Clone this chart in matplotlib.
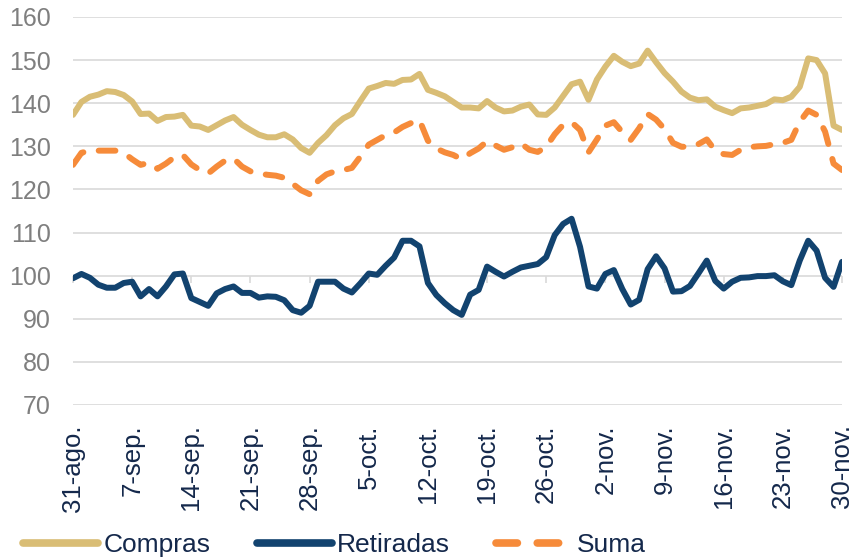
import matplotlib
matplotlib.use("Agg")
import matplotlib.pyplot as plt
import numpy as np

# daily series, 31-ago .. 30-nov
compras = [137.3, 140.3, 141.5, 142.0, 142.8, 142.6, 141.9, 140.4, 137.5, 137.6,
           135.9, 136.8, 136.9, 137.3, 134.8, 134.6, 133.8, 134.9, 136.0, 136.8,
           135.0, 133.8, 132.7, 132.1, 132.1, 132.8, 131.6, 129.6, 128.5, 130.8,
           132.6, 134.9, 136.5, 137.5, 140.5, 143.4, 144.0, 144.7, 144.5, 145.4,
           145.5, 146.8, 143.1, 142.4, 141.6, 140.3, 139.0, 139.0, 138.8, 140.5,
           139.0, 138.1, 138.3, 139.2, 139.7, 137.4, 137.3, 139.0, 141.7, 144.4,
           145.0, 140.8, 145.5, 148.5, 151.0, 149.6, 148.6, 149.2, 152.2, 149.5,
           147.0, 145.0, 142.7, 141.3, 140.7, 140.9, 139.2, 138.4, 137.7, 138.8,
           139.0, 139.4, 139.8, 140.9, 140.7, 141.5, 143.8, 150.4, 150.0, 146.9,
           134.8, 133.8]

retiradas = [99.4, 100.4, 99.5, 97.9, 97.2, 97.2, 98.3, 98.6, 95.2, 96.9,
             95.2, 97.5, 100.3, 100.5, 94.8, 93.9, 93.0, 95.9, 96.9, 97.5,
             96.0, 96.0, 94.9, 95.2, 95.1, 94.3, 92.0, 91.4, 93.0, 98.6,
             98.6, 98.6, 97.0, 96.1, 98.2, 100.5, 100.2, 102.3, 104.2, 108.1,
             108.1, 106.8, 98.3, 95.5, 93.6, 92.0, 90.9, 95.6, 96.7, 102.1,
             100.9, 99.8, 100.9, 101.9, 102.3, 102.7, 104.3, 109.4, 112.0, 113.2,
             106.7, 97.5, 97.0, 100.4, 101.3, 96.9, 93.3, 94.4, 101.5, 104.5,
             101.7, 96.3, 96.4, 97.6, 100.5, 103.5, 98.8, 97.0, 98.6, 99.5,
             99.6, 99.9, 99.9, 100.1, 98.7, 97.8, 103.5, 108.1, 105.8, 99.5,
             97.4, 103.2]

suma = [125.7, 128.5, 129.0, 129.0, 129.0, 129.0, 128.5, 127.0, 125.7, 126.2,
        124.8, 126.0, 127.5, 128.0, 125.8, 124.5, 123.7, 125.3, 126.7, 127.2,
        125.3, 124.2, 123.7, 123.4, 123.2, 122.7, 121.3, 119.8, 118.9, 122.0,
        123.5, 124.2, 124.5, 125.0, 127.6, 130.4, 131.5, 132.6, 133.2, 134.5,
        135.4, 136.1, 131.3, 129.5, 128.6, 128.0, 127.0, 128.4, 129.5, 131.2,
        130.2, 129.2, 129.8, 130.7, 129.2, 128.7, 129.9, 132.8, 135.0, 135.6,
        133.8, 128.6, 131.6, 134.8, 135.6, 133.3, 131.5, 134.2, 137.5, 136.2,
        134.0, 130.8, 129.9, 129.9, 130.5, 131.6, 129.0, 128.2, 128.0, 129.2,
        129.8, 130.0, 130.1, 130.5, 130.8, 131.5, 135.7, 138.3, 137.3, 133.4,
        126.0, 124.5]

tick_pos = [0, 7, 14, 21, 28, 35, 42, 49, 56, 63, 70, 77, 84, 91]
tick_labels = ["31-ago.", "7-sep.", "14-sep.", "21-sep.", "28-sep.", "5-oct.",
               "12-oct.", "19-oct.", "26-oct.", "2-nov.", "9-nov.", "16-nov.",
               "23-nov.", "30-nov."]

plt.rcParams["font.family"] = ["Liberation Sans", "DejaVu Sans"]
navy = "#14284B"
grey = "#D9D9D9"

x = np.arange(len(compras))

fig = plt.figure(figsize=(8.54, 5.6), dpi=100)
ax = fig.add_axes([73 / 854, 1 - 405 / 560, (842 - 73) / 854, (405 - 17) / 560])

ax.plot(x, compras, color="#D9BD75", lw=4.3, solid_joinstyle="round",
        solid_capstyle="round", label="Compras", zorder=3)
ax.plot(x, retiradas, color="#12436F", lw=4.3, solid_joinstyle="round",
        solid_capstyle="round", label="Retiradas", zorder=3)
ax.plot(x, suma, color="#F68B3A", lw=4.3, dashes=(2.8, 2.6), dash_capstyle="round",
        label="Suma", zorder=3)

ax.set_xlim(0, 91)
ax.set_ylim(70, 160)
ax.set_yticks(np.arange(70, 161, 10))
ax.yaxis.grid(True, color=grey, lw=1.2)
ax.set_axisbelow(True)
for s in ax.spines.values():
    s.set_visible(False)

ax.tick_params(axis="y", length=0, pad=16, labelsize=18, labelcolor="#7F7F7F")
ax.set_xticks(tick_pos)
ax.set_xticklabels(tick_labels, rotation=90, fontsize=18.5, color=navy)
ax.tick_params(axis="x", length=0, pad=14)

# category axis crossing at 100, only its tick marks show
sec = ax.secondary_xaxis((100 - 70) / 90)
sec.set_xticks(tick_pos)
sec.set_xticklabels([""] * len(tick_pos))
sec.tick_params(length=5, width=1.2, color=grey, direction="out")
sec.spines["bottom"].set_visible(False)
sec.spines["top"].set_visible(False)

leg = fig.legend(loc="center left", bbox_to_anchor=(0.027, 0.027), ncol=3,
                 frameon=False, fontsize=19, handlelength=2.85, handletextpad=0.2,
                 columnspacing=1.75, borderaxespad=0, borderpad=0)
for t in leg.get_texts():
    t.set_color(navy)
for ln in leg.get_lines():
    ln.set_linewidth(5.5)

fig.savefig("out.png", dpi=100)
